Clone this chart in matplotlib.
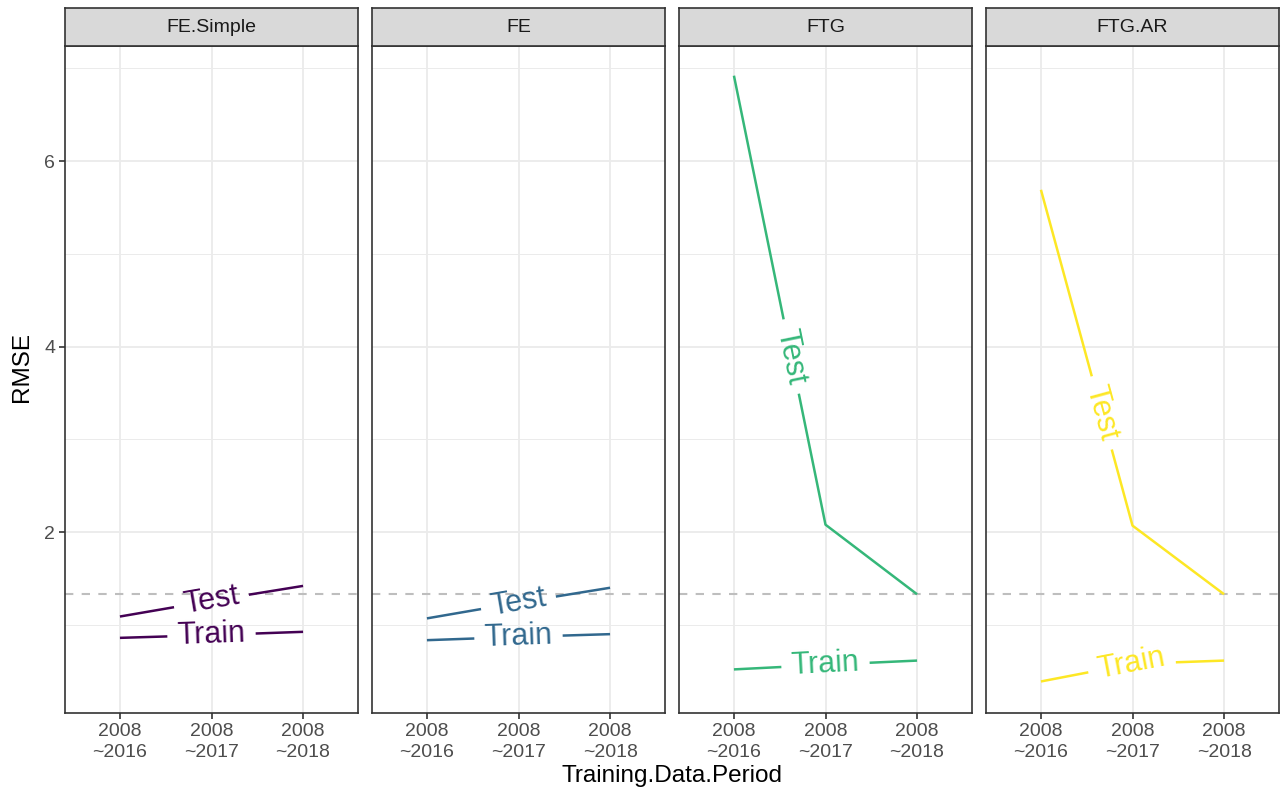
import numpy as np
import matplotlib
matplotlib.use("Agg")
import matplotlib.pyplot as plt

plt.rcParams['font.family'] = ['Liberation Sans', 'DejaVu Sans']

# data
models = ["FE.Simple", "FE", "FTG", "FTG.AR"]
periods = ["2008\n~2016", "2008\n~2017", "2008\n~2018"]
test_rmse = {
    "FE.Simple": [1.09, 1.26, 1.42],
    "FE": [1.07, 1.24, 1.40],
    "FTG": [6.92, 2.08, 1.33],
    "FTG.AR": [5.69, 2.07, 1.33],
}
train_rmse = {
    "FE.Simple": [0.86, 0.89, 0.925],
    "FE": [0.835, 0.87, 0.90],
    "FTG": [0.52, 0.57, 0.615],
    "FTG.AR": [0.39, 0.58, 0.615],
}
colors = ["#440154", "#31688E", "#35B779", "#FDE725"]
ref_line = 1.33

W, H = 1285, 791
fig = plt.figure(figsize=(W / 100, H / 100), dpi=100)
renderer = fig.canvas.get_renderer()

panel_left = [65, 372, 679, 986]
panel_w = 293
top, bottom = 46, 713
strip_top = 8
ylim = (0.05, 7.24)
xlim = (0.4, 3.6)


def label_line(ax, xs, ys, text, color, fs=22, pad=10):
    pts = ax.transData.transform(np.column_stack([xs, ys]))
    seg = np.diff(pts, axis=0)
    lens = np.hypot(seg[:, 0], seg[:, 1])
    cum = np.concatenate([[0], np.cumsum(lens)])
    mid = cum[-1] / 2
    i = min(max(np.searchsorted(cum, mid) - 1, 0), len(lens) - 1)
    f = (mid - cum[i]) / lens[i]
    p = pts[i] + f * seg[i]
    ang = np.degrees(np.arctan2(seg[i, 1], seg[i, 0]))
    t = ax.text(0, 0, text, fontsize=fs, color=color, ha="center", va="center",
                rotation_mode="anchor")
    w = t.get_window_extent(renderer).width
    inv = ax.transData.inverted()
    t.set_position(inv.transform(p))
    t.set_rotation(ang)
    gap0, gap1 = mid - w / 2 - pad, mid + w / 2 + pad

    def point_at(s):
        j = min(max(np.searchsorted(cum, s) - 1, 0), len(lens) - 1)
        g = (s - cum[j]) / lens[j]
        return pts[j] + g * seg[j], j

    a, ja = point_at(gap0)
    b, jb = point_at(gap1)
    part1 = np.vstack([pts[:ja + 1], a])
    part2 = np.vstack([b, pts[jb + 1:]])
    for part in (part1, part2):
        d = inv.transform(part)
        ax.plot(d[:, 0], d[:, 1], color=color, lw=1.8, solid_capstyle="butt")


x = np.array([1, 2, 3])
for k, m in enumerate(models):
    l = panel_left[k]
    ax = fig.add_axes([l / W, 1 - bottom / H, panel_w / W, (bottom - top) / H])
    ax.set_xlim(*xlim)
    ax.set_ylim(*ylim)
    ax.set_yticks([2, 4, 6])
    ax.set_yticks([1, 3, 5, 7], minor=True)
    ax.set_xticks(x)
    ax.set_xticklabels(periods, fontsize=14, color="#4D4D4D", linespacing=1.3)
    ax.grid(True, which="major", color="#EBEBEB", lw=1.3, zorder=0)
    ax.grid(True, which="minor", axis="y", color="#EBEBEB", lw=0.7, zorder=0)
    ax.set_axisbelow(True)
    for s in ax.spines.values():
        s.set_color("#333333")
        s.set_linewidth(1.2)
    ax.tick_params(axis="both", which="major", length=4, width=1.2, color="#333333", pad=3)
    ax.tick_params(axis="y", which="minor", length=0)
    if k == 0:
        ax.set_yticklabels(["2", "4", "6"], fontsize=14, color="#4D4D4D")
    else:
        ax.tick_params(axis="y", which="major", length=0, labelleft=False)

    ax.axhline(ref_line, color="#BEBEBE", lw=1.5, ls=(0, (4, 4)), zorder=1)
    label_line(ax, x, test_rmse[m], "Test", colors[k])
    label_line(ax, x, train_rmse[m], "Train", colors[k])

    # strip
    sax = fig.add_axes([l / W, 1 - top / H, panel_w / W, (top - strip_top) / H])
    sax.set_facecolor("#D9D9D9")
    sax.set_xticks([])
    sax.set_yticks([])
    for s in sax.spines.values():
        s.set_color("#333333")
        s.set_linewidth(1.2)
    sax.text(0.5, 0.48, m, ha="center", va="center", fontsize=14, color="#1A1A1A",
             transform=sax.transAxes)

fig.text(22 / W, 1 - 367 / H, "RMSE", rotation=90, ha="center", va="center", fontsize=17.5)
fig.text(672 / W, 1 - 776 / H, "Training.Data.Period", ha="center", va="center", fontsize=17.5)

fig.savefig("out.png", dpi=100)
